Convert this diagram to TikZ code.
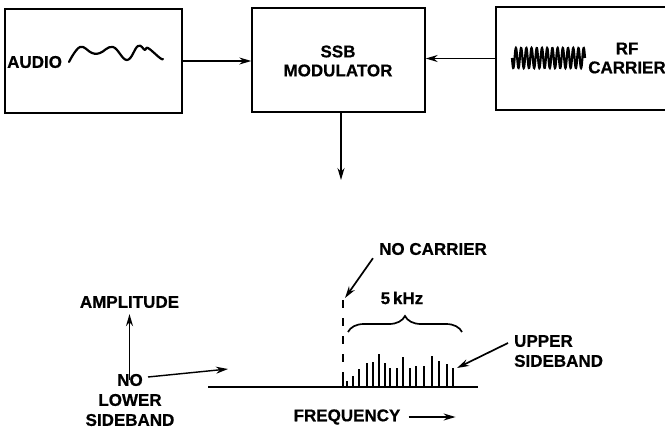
\documentclass[tikz,border=0pt]{standalone}
\usepackage{fontspec}
\setmainfont{Liberation Sans}[BoldFeatures={FakeBold=0.6}]
\usetikzlibrary{arrows.meta, calc, positioning, decorations.pathreplacing}

\begin{document}
\begin{tikzpicture}[>={Stealth[length=12pt, width=7pt]}, x=1pt, y=-1pt,
    blk/.style={draw, line width=1.4pt, minimum width=173pt, minimum height=104pt, inner sep=0pt},
    lbl/.style={font=\fontsize{17}{19}\selectfont\bfseries, inner sep=0pt, align=center},
    lbltall/.style={lbl, font=\fontsize{17}{20}\selectfont\bfseries},
    conn/.style={line width=1.4pt, ->},
    sig/.style={line width=2.2pt, line cap=round, line join=round}]

\useasboundingbox (0,0) rectangle (665,428);

% ============================================================
% UPPER PART: block diagram
% ============================================================

\node[blk, minimum width=177pt] (audio) at (93.5, 61) {};
\node[blk]                      (ssb)   at (338.5, 60) {};
\node[blk, minimum width=200pt, minimum height=103pt] (rf) at (596, 58.5) {};

\node[lbl, anchor=west] (audiotxt) at (7, 62)  {AUDIO};
\node[lbl]              (ssbtxt)   at (338, 61) {SSB\\MODULATOR};
\node[lbl]              (rftxt)    at (627, 58) {RF\\CARRIER};

% audio wave
\draw[sig] plot[smooth, tension=0.7] coordinates {
    (69,62) (80,47) (92,53) (100,53) (113,47) (127,60)
    (138,46) (145,50) (148,48) (160,58) (163,59)};

% rf wave
\draw[line width=2.2pt, domain=0:73, samples=300]
    plot ({512+\x}, {58 + 10*sin(\x*69.04)});

\draw[conn] (audio.east) -- (audio.east -| ssb.west);
\draw[conn] (rf.west) -- (rf.west -| ssb.east);

\coordinate (specin) at (341, 180);
\draw[conn] (ssb.south -| specin) -- (specin);

% ============================================================
% LOWER PART: spectrum
% ============================================================

\coordinate (bl) at (208, 387);
\coordinate (br) at (478, 387);
\draw[line width=1.4pt] (bl) -- (br);

\draw[line width=2pt, dash pattern=on 8pt off 10pt] (342.7,300) -- (342.7,387);

\foreach \xs/\ys in {342.7/377.3, 347.3/380.7, 352.7/376, 359.3/369.3,
    367.3/362.7, 373.3/361.7, 379.3/354.3, 385/363.3, 390/368.3,
    396.7/368.3, 402.7/357.3, 410/367.7, 416/366, 424.3/366,
    431.7/356, 439/360.7, 446.7/364, 452.7/367.7} {
    \draw[line width=2.2pt] (\xs,387) -- (\xs,\ys);
}

\draw[line width=1.7pt, decorate, decoration={brace, amplitude=16pt}]
    (348,332) -- (462,332);
\node[lbl] (bw) at (402, 298) {5\,kHz};

\node[lbl] (nocar) at (433, 249) {NO CARRIER};
\coordinate (cartip) at (345, 298);
\draw[conn, line width=1.7pt] ([xshift=-6pt, yshift=-3pt]nocar.south west) -- (cartip);

\node[lbltall, align=left, anchor=west] (usb) at (514, 351) {UPPER\\SIDEBAND};
\coordinate (usbtip) at (457, 368);
\draw[conn, line width=1.7pt] ([xshift=-6pt, yshift=8pt]usb.west) -- (usbtip);

\node[lbl]     (amp) at (129.5, 302) {AMPLITUDE};
\node[lbltall] (nls) at (130, 400)   {NO\\LOWER\\SIDEBAND};
\draw[conn, shorten <=-6pt, shorten >=6pt] (nls.north -| amp.south) -- (amp.south);

\coordinate (lowtail) at (148, 377);
\coordinate (lowtip)  at (228, 369);
\draw[conn] (lowtail) -- (lowtip);

\node[lbl] (freq) at (347, 417) {FREQUENCY};
\draw[conn] ([xshift=8pt]freq.east) -- ++(47,0);

\end{tikzpicture}
\end{document}
